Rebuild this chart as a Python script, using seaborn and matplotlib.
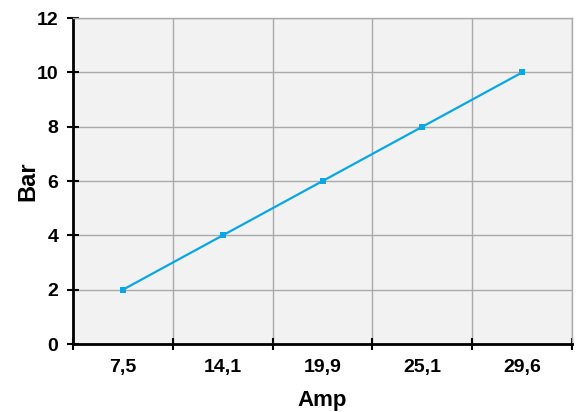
import matplotlib

matplotlib.use("Agg")
import matplotlib.pyplot as plt
import numpy as np
import pandas as pd
import seaborn as sns

amp_labels = ["7,5", "14,1", "19,9", "25,1", "29,6"]
bar_values = [2, 4, 6, 8, 10]

sns.set_style("white")
plt.rcParams["font.family"] = ["Liberation Sans", "DejaVu Sans"]
plt.rcParams["text.color"] = "black"
plt.rcParams["axes.labelcolor"] = "black"
plt.rcParams["xtick.color"] = "black"
plt.rcParams["ytick.color"] = "black"

df = pd.DataFrame({"Amp": amp_labels, "Bar": bar_values})

fig = plt.figure(figsize=(5.79, 4.12), dpi=100)
ax = fig.add_axes([0.126, 0.165, 0.862, 0.791])
ax.set_facecolor("#f2f2f2")

sns.lineplot(
    data=df,
    x="Amp",
    y="Bar",
    ax=ax,
    color="#0aa6e6",
    linewidth=1.6,
    marker="s",
    markersize=4.5,
    markeredgewidth=0,
    zorder=3,
)

n = len(amp_labels)
ax.set_xlim(-0.5, n - 0.5)
ax.set_ylim(0, 12)
ax.set_xticks(np.arange(-0.5, n, 1.0))
ax.set_xticklabels([])
ax.set_xticks(np.arange(n), minor=True)
ax.set_xticklabels(amp_labels, minor=True, fontsize=14, fontweight="bold")
ax.tick_params(axis="x", which="minor", bottom=False, length=0, pad=11)
ax.tick_params(axis="x", which="major", bottom=True, direction="inout",
               length=9, width=1.5, color="black")
ax.set_yticks(range(0, 13, 2))
ax.set_yticklabels([str(v) for v in range(0, 13, 2)], fontsize=14, fontweight="bold")
ax.tick_params(axis="y", left=True, direction="inout", length=9, width=1.5,
               pad=6, color="black")

ax.grid(True, which="major", color="#aaaaaa", linewidth=1)
for side in ["left", "bottom"]:
    ax.spines[side].set_color("black")
    ax.spines[side].set_linewidth(2)
for side in ["top", "right"]:
    ax.spines[side].set_color("#aaaaaa")
    ax.spines[side].set_linewidth(1)

ax.set_xlabel("Amp", fontsize=16, fontweight="bold", labelpad=10)
ax.set_ylabel("Bar", fontsize=17, fontweight="bold", labelpad=-2)

fig.savefig("out.png", dpi=100)
plt.close()
